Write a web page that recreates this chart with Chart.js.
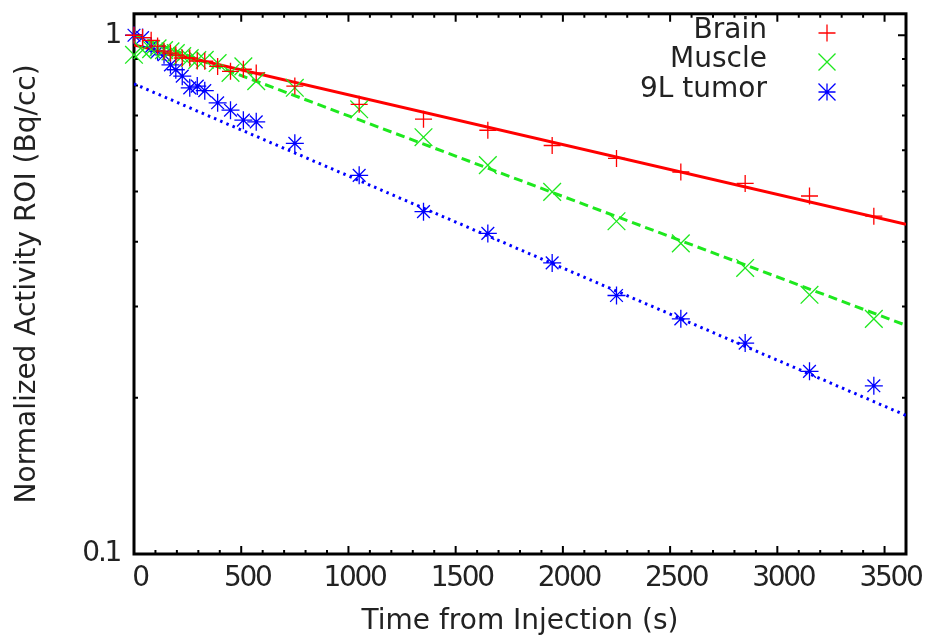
<!DOCTYPE html>
<html>
<head>
<meta charset="utf-8">
<script src="https://cdn.jsdelivr.net/npm/chart.js@4.4.1/dist/chart.umd.min.js"></script>
<style>
  html, body { margin: 0; padding: 0; background: #fff; }
  #wrap { width: 933px; height: 642px; }
</style>
</head>
<body>
<div id="wrap"><canvas id="grafico" width="933" height="642"></canvas></div>
<script>
/* ──────────────────────────────────────────────
   ROI activity vs time after injection (log y)
   ────────────────────────────────────────────── */

// Frame times (s)
const TIEMPOS = [0, 40, 80, 110, 140, 170, 195, 225, 260, 295, 330, 390, 450, 510, 570,
                 750, 1050, 1350, 1650, 1950, 2250, 2550, 2850, 3150, 3450];

// Normalized activity per ROI
const CEREBRO = [1.0, 0.99, 0.978, 0.953, 0.932, 0.924, 0.916, 0.904, 0.904, 0.892, 0.891,
                 0.871, 0.852, 0.86, 0.846,
                 0.798, 0.736, 0.689, 0.656, 0.613, 0.579, 0.545, 0.518, 0.490, 0.448];
const MUSCULO = [0.917, 0.936, 0.940, 0.944, 0.936, 0.931, 0.924, 0.912, 0.904, 0.896, 0.897,
                 0.884, 0.846, 0.871, 0.816,
                 0.792, 0.720, 0.636, 0.562, 0.499, 0.438, 0.397, 0.356, 0.316, 0.284];
const TUMOR   = [1.0, 0.99, 0.951, 0.931, 0.917, 0.877, 0.858, 0.834, 0.792, 0.798, 0.782,
                 0.741, 0.717, 0.686, 0.681,
                 0.619, 0.537, 0.457, 0.415, 0.364, 0.315, 0.284, 0.255, 0.225, 0.211];

// Exponential fits, given at both ends of the x range
const FIT_T       = [0, 3600];
const FIT_CEREBRO = [0.958, 0.432];
const FIT_MUSCULO = [1.0, 0.276];
const FIT_TUMOR   = [0.806, 0.185];

const ETIQUETAS = ["Brain", "Muscle", "9L tumor"];

// Axis ticks
const X_TICKS = [0, 500, 1000, 1500, 2000, 2500, 3000, 3500];
const Y_TICKS = [0.1, 1];
const Y_MINOR = [0.1, 0.2, 0.3, 0.4, 0.5, 0.6, 0.7, 0.8, 0.9, 1];

const ROJO = "#ff0000", VERDE = "#1ee81e", AZUL = "#0000ff";
const TEXTO = "#222222";
const FUENTE = "DejaVu Sans";

const puntos = (xs, ys) => xs.map((x, i) => ({ x, y: ys[i] }));

// ── MARCADORES (legend) ───────────────────────

function marcador(ctx, tipo, x, y, r) {
  ctx.beginPath();
  if (tipo === "cross" || tipo === "star") {
    ctx.moveTo(x - r, y); ctx.lineTo(x + r, y);
    ctx.moveTo(x, y - r); ctx.lineTo(x, y + r);
  }
  if (tipo === "crossRot" || tipo === "star") {
    ctx.moveTo(x - r, y - r); ctx.lineTo(x + r, y + r);
    ctx.moveTo(x - r, y + r); ctx.lineTo(x + r, y - r);
  }
  ctx.stroke();
}

// ── PLUGIN: frame, inward ticks, legend, titles ─

const marco = {
  id: "marco",
  beforeDraw(chart) {
    // tight digits on the tick labels
    chart.ctx.letterSpacing = "-2.3px";
  },
  beforeDatasetsDraw(chart) {
    const { ctx, chartArea: a, scales } = chart;
    ctx.save();
    ctx.strokeStyle = "#000";
    ctx.lineWidth = 2;
    ctx.beginPath();
    for (let v = 0; v <= 3600; v += 100) {
      const px = scales.x.getPixelForValue(v);
      const l = v % 500 === 0 ? 8 : 4;
      ctx.moveTo(px, a.bottom); ctx.lineTo(px, a.bottom - l);
      ctx.moveTo(px, a.top);    ctx.lineTo(px, a.top + l);
    }
    Y_MINOR.forEach(v => {
      const py = scales.y.getPixelForValue(v);
      const l = Y_TICKS.includes(v) ? 8 : 4;
      ctx.moveTo(a.left, py);  ctx.lineTo(a.left + l, py);
      ctx.moveTo(a.right, py); ctx.lineTo(a.right - l, py);
    });
    ctx.stroke();
    ctx.lineWidth = 3;
    ctx.strokeRect(a.left, a.top, a.right - a.left, a.bottom - a.top);
    ctx.restore();
  },
  afterDraw(chart) {
    const { ctx, chartArea: a } = chart;
    ctx.save();
    ctx.letterSpacing = "0px";
    ctx.fillStyle = TEXTO;
    ctx.font = `28px "${FUENTE}"`;
    ctx.textBaseline = "middle";

    // legend: text right-aligned, marker to the right
    const filas = [31, 60, 90];
    chart.data.datasets.slice(0, 3).forEach((ds, i) => {
      ctx.textAlign = "right";
      ctx.fillText(ds.label, 767, filas[i]);
      ctx.strokeStyle = ds.borderColor;
      ctx.lineWidth = 1.3;
      marcador(ctx, ds.pointStyle, 827, filas[i] + 2, 8.5);
    });

    // axis titles
    ctx.textAlign = "center";
    ctx.fillText("Time from Injection (s)", (a.left + a.right) / 2, 622);
    ctx.translate(28, (a.top + a.bottom) / 2);
    ctx.rotate(-Math.PI / 2);
    ctx.fillText("Normalized Activity ROI (Bq/cc)", 0, 0);
    ctx.restore();
  }
};

// ── CHART ─────────────────────────────────────

const serie = (label, datos, color, estilo, radio) => ({
  type: "scatter",
  label,
  data: puntos(TIEMPOS, datos),
  borderColor: color,
  backgroundColor: color,
  pointStyle: estilo,
  pointRadius: radio,
  pointBorderWidth: 1.3,
  showLine: false,
  clip: false,
});

const ajuste = (datos, color, dash) => ({
  type: "line",
  label: "",
  data: puntos(FIT_T, datos),
  borderColor: color,
  borderWidth: 3,
  borderDash: dash,
  pointRadius: 0,
  fill: false,
  tension: 0,
});

new Chart(document.getElementById("grafico"), {
  type: "scatter",
  data: {
    datasets: [
      serie(ETIQUETAS[0], CEREBRO, ROJO, "cross", 8.5),
      serie(ETIQUETAS[1], MUSCULO, VERDE, "crossRot", 12.5),
      serie(ETIQUETAS[2], TUMOR, AZUL, "star", 9),
      ajuste(FIT_CEREBRO, ROJO, []),
      ajuste(FIT_MUSCULO, VERDE, [9, 5]),
      ajuste(FIT_TUMOR, AZUL, [2.5, 4.2]),
    ]
  },
  options: {
    responsive: false,
    devicePixelRatio: 1,
    animation: false,
    layout: { padding: { top: 10, right: 27, left: 0, bottom: 0 } },
    plugins: { legend: { display: false }, tooltip: { enabled: false } },
    scales: {
      x: {
        type: "linear",
        min: 0, max: 3600,
        afterBuildTicks: s => { s.ticks = X_TICKS.map(v => ({ value: v })); },
        afterFit: s => { s.height = 88; s.paddingLeft = 0; s.paddingRight = 0; },
        grid: { display: false, drawTicks: false },
        border: { display: false },
        ticks: {
          callback: v => String(v),
          font: { family: FUENTE, size: 28 },
          color: TEXTO,
          padding: 8,
          labelOffset: 6,
          maxRotation: 0,
          autoSkip: false,
        },
      },
      y: {
        type: "logarithmic",
        min: 0.1, max: 1.1,
        afterBuildTicks: s => { s.ticks = Y_TICKS.map(v => ({ value: v })); },
        afterFit: s => { s.width = 134; s.paddingTop = 0; s.paddingBottom = 0; },
        grid: { display: false, drawTicks: false },
        border: { display: false },
        ticks: {
          callback: v => String(v),
          font: { family: FUENTE, size: 28 },
          color: TEXTO,
          padding: 14,
          autoSkip: false,
        },
      },
    },
  },
  plugins: [marco],
});
</script>
</body>
</html>
